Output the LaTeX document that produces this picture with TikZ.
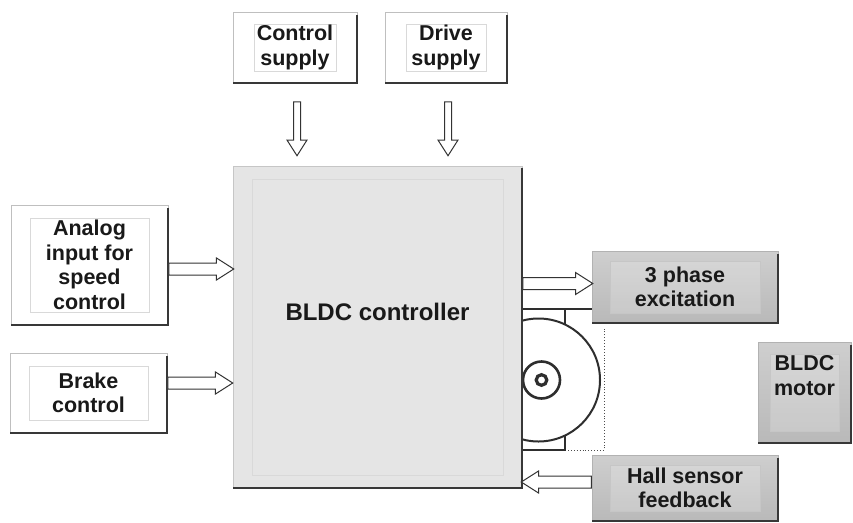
\documentclass[tikz,border=0pt]{standalone}
\usepackage{fontspec}
\setmainfont{Liberation Sans}
\usetikzlibrary{shapes.arrows,calc}
\begin{document}
\begin{tikzpicture}[x=1pt,y=-1pt,
  txt/.style={font=\fontsize{21.5}{24.5}\selectfont\bfseries, align=center, text=black!90},
  bigtxt/.style={font=\fontsize{24}{28}\selectfont\bfseries, text=black!90},
  innerbox/.style 2 args={path picture={\draw[gray!30, line width=0.8pt]
     ([xshift=#1,yshift=#2]path picture bounding box.south west) rectangle
     ([xshift=-#1,yshift=-#2]path picture bounding box.north east);}},
  wbox/.style={rectangle, draw=gray!50, line width=0.5pt, fill=white, inner sep=0pt, txt},
  gbox/.style={rectangle, draw=gray!60, line width=0.5pt, inner sep=0pt, txt,
     top color=gray!38, bottom color=gray!55},
  gin/.style 2 args={path picture={\draw[gray!45, fill=white, fill opacity=0.2, line width=0.6pt]
     ([xshift=#1,yshift=#2]path picture bounding box.south west) rectangle
     ([xshift=-#1,yshift=-#2]path picture bounding box.north east);}},
  shadowedge/.style={draw=black!78, line width=2pt},
  harrow/.style={single arrow, draw=black!80, fill=white, line width=1pt, inner xsep=0pt, inner ysep=5.5pt,
     minimum width=21pt, single arrow head extend=5pt, single arrow tip angle=65},
  varrow/.style={single arrow, draw=black!80, fill=white, line width=1pt, inner xsep=0pt, inner ysep=3pt,
     minimum width=19pt, single arrow head extend=6.5pt, single arrow tip angle=65, rotate=-90},
  motorline/.style={draw=black!82, line width=2pt},
  thinline/.style={draw=black!70, line width=0.9pt, dotted}
]
\useasboundingbox (0,0) rectangle (853,522);
\fill[white] (0,0) rectangle (853,522);

% ---- supply boxes
\node[wbox, minimum width=124pt, minimum height=71pt, innerbox={21pt}{12pt}] (cs) at (295,47.5) {Control\\supply};
\node[wbox, minimum width=122pt, minimum height=71pt, innerbox={21pt}{12pt}] (ds) at (446,47.5) {Drive\\supply};
\draw[shadowedge] ([yshift=-3pt]cs.north east) -- (cs.south east) -- (cs.south west);
\draw[shadowedge] ([yshift=-3pt]ds.north east) -- (ds.south east) -- (ds.south west);

% ---- input boxes
\node[wbox, minimum width=157pt, minimum height=120pt, innerbox={19pt}{13pt}] (an) at (89.5,265) {Analog\\input for\\speed\\control};
\node[wbox, minimum width=157pt, minimum height=80pt, innerbox={19pt}{13pt}] (br) at (88.5,393) {Brake\\control};
\draw[shadowedge] ([yshift=-3pt]an.north east) -- (an.south east) -- (an.south west);
\draw[shadowedge] ([yshift=-3pt]br.north east) -- (br.south east) -- (br.south west);

% ---- motor drawing (behind controller)
\coordinate (mc) at (538.5,380);
\coordinate (hub) at (541.5,380);
\node[gbox, minimum width=186pt, minimum height=72pt, gin={18pt}{10pt}] (ph) at (685,287) {3 phase\\excitation};
\draw[motorline] (522,309) -- (ph.west |- 0,309);
\draw[motorline] (565,309) -- (565,330);
\draw[motorline] (565,430) -- (565,450) -- (522,450);
\draw[thinline] (568,450) -- (604,450) -- (604,327);
\draw[motorline, fill=white] (mc) circle (61.5);
\draw[motorline, line width=2.6pt] (hub) circle (18.5);
\draw[motorline, line width=3.2pt] (hub) circle (5.3);

% ---- controller
\node[rectangle, draw=gray!45, line width=0.6pt, fill=gray!20, minimum width=289pt, minimum height=322pt,
      innerbox={19pt}{13pt}] (ctl) at (377.5,327) {};
\draw[shadowedge] ([yshift=-2pt]ctl.north east) -- (ctl.south east) -- (ctl.south west);
\node[bigtxt] (ctltxt) at ([yshift=15pt]ctl.center) {BLDC controller};

% ---- output boxes
\node[gbox, minimum width=186pt, minimum height=66pt, gin={18pt}{10pt}] (hs) at (685,488) {Hall sensor\\feedback};
\node[gbox, minimum width=93pt, minimum height=101pt, gin={12pt}{12pt}] (mt) at (804.5,392.5) {};
\node[txt] (mttxt) at ([yshift=17pt]mt.center) {BLDC\\motor};
\draw[shadowedge] ([yshift=-3pt]ph.north east) -- (ph.south east) -- (ph.south west);
\draw[shadowedge] ([yshift=-3pt]hs.north east) -- (hs.south east) -- (hs.south west);
\draw[shadowedge] ([yshift=-3pt]mt.north east) -- (mt.south east) -- (mt.south west);

% ---- arrows
\node[varrow, minimum height=54pt, anchor=tail] (a1) at ([xshift=2pt,yshift=-18pt]cs.south) {};
\node[varrow, minimum height=54pt, anchor=tail] (a2) at ([xshift=2pt,yshift=-18pt]ds.south) {};
\node[harrow, minimum height=65pt, anchor=tail] (a3) at ([yshift=-4pt]an.east) {};
\node[harrow, minimum height=65pt, anchor=tail] (a4) at ([yshift=10pt]br.east) {};
\node[harrow, minimum height=70pt, anchor=tail] (a5) at (ctl.east |- 0,283.5) {};
\node[harrow, minimum height=70pt, anchor=tail, rotate=180] (a6) at (hs.west |- 0,482) {};
\end{tikzpicture}
\end{document}
